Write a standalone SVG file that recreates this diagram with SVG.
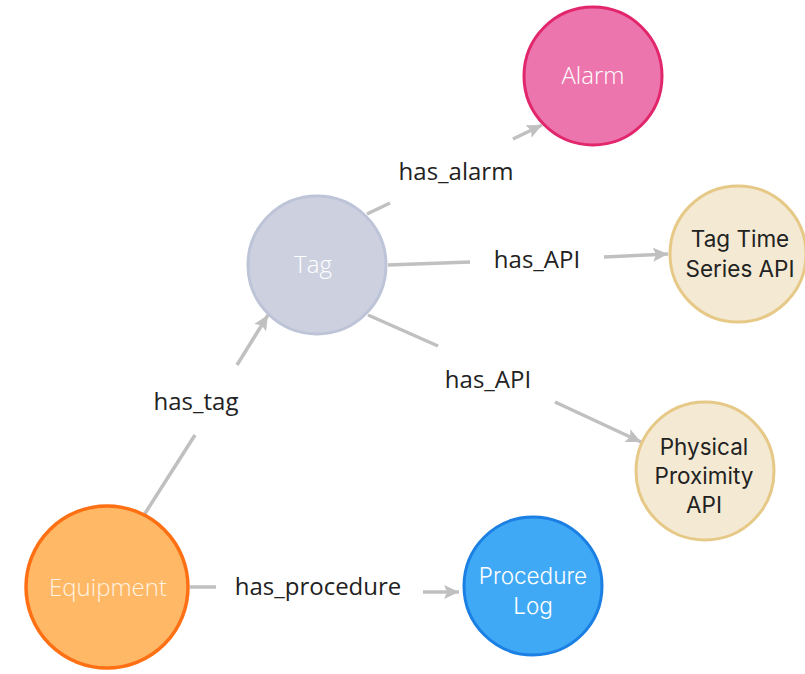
<svg xmlns="http://www.w3.org/2000/svg" width="805" height="674" viewBox="0 0 805 674">
<defs>
<marker id="arr" markerUnits="userSpaceOnUse" markerWidth="16" markerHeight="14" refX="15" refY="7" orient="auto">
<path d="M0,0 L15,7 L0,14 L3,7 Z" fill="#C0C0C0"/>
</marker>
<style>
.edge{stroke:#C0C0C0;stroke-width:3.5;fill:none}
.elabel{font-family:"Open Sans","Noto Sans",sans-serif;font-size:24px;fill:#222;text-anchor:middle;dominant-baseline:central}
.nlabel{font-family:"Open Sans","Noto Sans",sans-serif;font-size:24px;font-weight:300;text-anchor:middle;dominant-baseline:central}
.multi{font-family:Inter,"Open Sans",sans-serif;font-size:22.5px}
.dark{font-weight:400;fill:#222}
</style>
</defs>
<rect width="805" height="674" fill="#FFFFFF"/>
<g id="connectors">
<g id="e-has-alarm">
<line class="edge" x1="367" y1="214" x2="390" y2="203"/>
<line class="edge" x1="513" y1="139" x2="542" y2="125" marker-end="url(#arr)"/>
<text class="elabel" x="456" y="170">has_alarm</text>
</g>
<g id="e-has-api-1">
<line class="edge" x1="388" y1="265" x2="470" y2="262"/>
<line class="edge" x1="604" y1="257" x2="668" y2="254" marker-end="url(#arr)"/>
<text class="elabel" x="537" y="258">has_API</text>
</g>
<g id="e-has-api-2">
<line class="edge" x1="368" y1="315" x2="438" y2="346"/>
<line class="edge" x1="555" y1="402" x2="641" y2="442" marker-end="url(#arr)"/>
<text class="elabel" x="488" y="378">has_API</text>
</g>
<g id="e-has-tag">
<line class="edge" x1="144" y1="515" x2="195" y2="435"/>
<line class="edge" x1="237" y1="365" x2="268" y2="315" marker-end="url(#arr)"/>
<text class="elabel" x="196" y="400">has_tag</text>
</g>
<g id="e-has-procedure">
<line class="edge" x1="190" y1="587" x2="216" y2="587"/>
<line class="edge" x1="423" y1="592" x2="459" y2="592" marker-end="url(#arr)"/>
<text class="elabel" x="318" y="585">has_procedure</text>
</g>
</g>
<g id="node-alarm">
<circle cx="593" cy="76" r="69" fill="#ED75AE" stroke="#E1266C" stroke-width="3"/>
<text class="nlabel" x="593" y="74" fill="#FFFFFF">Alarm</text>
</g>
<g id="node-tag">
<circle cx="317" cy="265" r="69" fill="#CDD1DF" stroke="#BEC4D8" stroke-width="3"/>
<text class="nlabel" x="313" y="263" fill="#FFFFFF">Tag</text>
</g>
<g id="node-tts-api">
<circle cx="738" cy="254" r="68" fill="#F4EAD4" stroke="#E6C887" stroke-width="3"/>
<text class="nlabel multi dark" x="740" y="238">Tag Time</text>
<text class="nlabel multi dark" x="740" y="268">Series API</text>
</g>
<g id="node-physical">
<circle cx="705" cy="471" r="69" fill="#F4EAD4" stroke="#E6C887" stroke-width="3"/>
<text class="nlabel multi dark" x="704" y="446">Physical</text>
<text class="nlabel multi dark" x="704" y="475">Proximity</text>
<text class="nlabel multi dark" x="704" y="504">API</text>
</g>
<g id="node-equipment">
<circle cx="107" cy="587" r="81" fill="#FFB866" stroke="#FF6F14" stroke-width="3.5"/>
<text class="nlabel" x="108" y="586" fill="#FFF4E4">Equipment</text>
</g>
<g id="node-procedure">
<circle cx="533" cy="586" r="69" fill="#3FA9F5" stroke="#1B7FE3" stroke-width="3"/>
<text class="nlabel multi" x="533" y="575" fill="#FFFFFF">Procedure</text>
<text class="nlabel multi" x="533" y="605" fill="#FFFFFF">Log</text>
</g>
</svg>
